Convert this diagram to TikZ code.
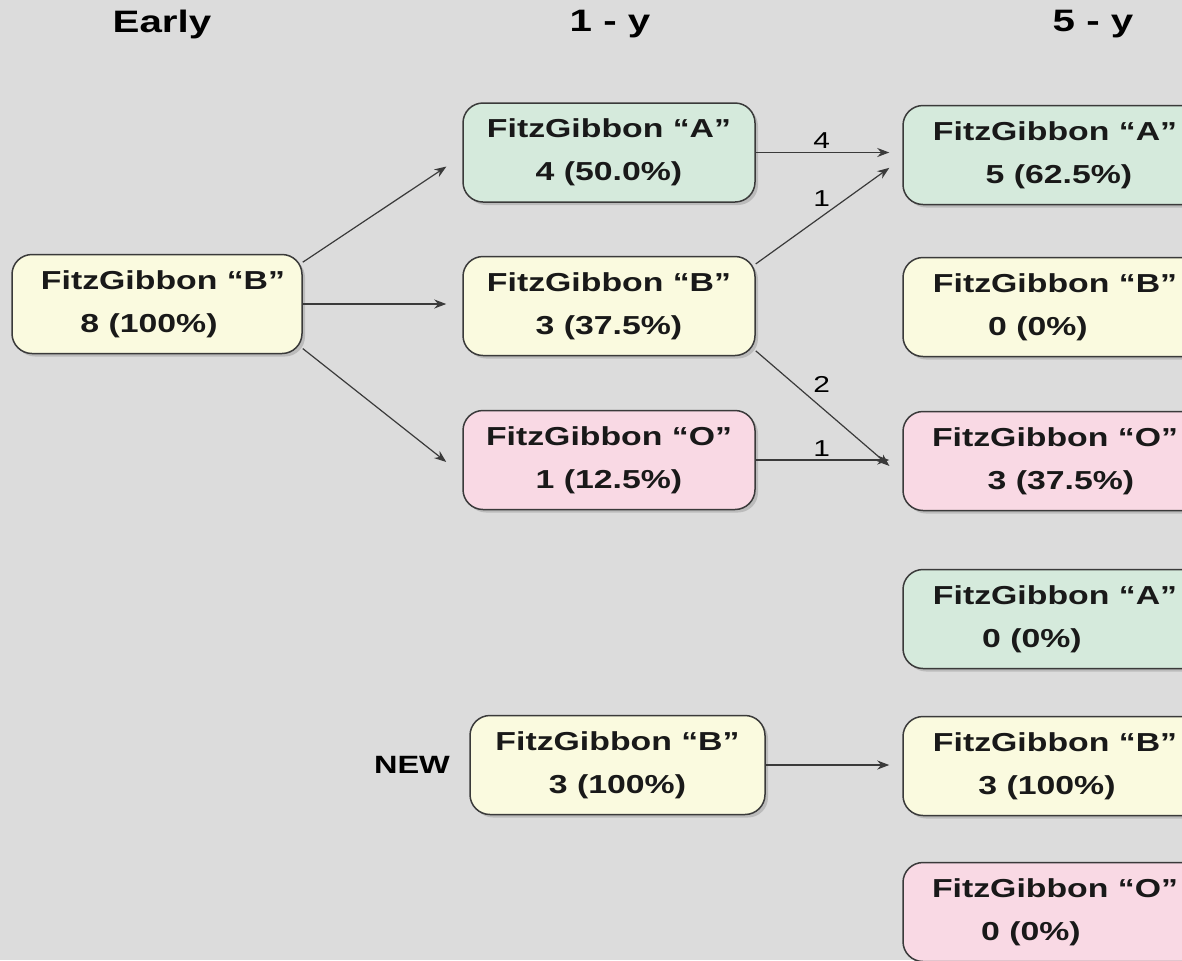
\documentclass[tikz,border=0pt]{standalone}
\usepackage{fontspec}
\setmainfont{Liberation Sans}[FakeStretch=1.3]
\usetikzlibrary{arrows.meta,shadows}
\definecolor{bggray}{HTML}{DCDCDC}
\definecolor{agreen}{HTML}{D5EADC}
\definecolor{byellow}{HTML}{FAFADF}
\definecolor{opink}{HTML}{F9D9E4}
\definecolor{edgegray}{HTML}{3A3A3A}
\begin{document}
\begin{tikzpicture}[x=0.5pt,y=-0.5pt,
    box/.style={draw=edgegray, line width=0.75pt, rounded corners=10pt,
      minimum width=146pt, minimum height=49.5pt, align=center,
      text=black!90, font=\fontsize{13}{21.5}\selectfont\bfseries,
      drop shadow={shadow xshift=1.5pt, shadow yshift=-1.5pt, opacity=0.35}},
    gbox/.style={box, fill=agreen},
    ybox/.style={box, fill=byellow},
    pbox/.style={box, fill=opink},
    head/.style={font=\fontsize{15.5}{18}\selectfont\bfseries},
    arr/.style={draw=edgegray, line width=0.6pt, -{Stealth[length=6pt,width=4.5pt]}},
    num/.style={font=\fontsize{11.5}{13}\selectfont, inner sep=1.5pt}]
  \useasboundingbox (0,0) rectangle (1182,960);
  \clip (0,0) rectangle (1182,960);
  \fill[bggray] (0,0) rectangle (1182,960);

  \node[head] (hEarly) at (162,24) {Early};
  \node[head] (hOne) at (610,24) {1 - y};
  \node[head] (hFive) at (1093,24) {5 - y};

  \node[ybox, minimum width=145pt] (early) at (157,304) {\hspace*{6pt}FitzGibbon “B”\\\hspace*{-8pt}8 (100\%)};

  \node[gbox] (oneA) at (609,152.5) {FitzGibbon “A”\\4 (50.0\%)};
  \node[ybox] (oneB) at (609,306) {FitzGibbon “B”\\3 (37.5\%)};
  \node[pbox] (oneO) at (609,460) {FitzGibbon “O”\\1 (12.5\%)};
  \node[ybox, minimum width=147.5pt] (newB) at (617.5,765) {FitzGibbon “B”\\3 (100\%)};
  \node[font=\fontsize{12.5}{15}\selectfont\bfseries] (newlbl) at (412,765) {NEW};

  \node[gbox, minimum width=152pt] (fiveA) at (1055,155) {FitzGibbon “A”\\\hspace*{4pt}5 (62.5\%)};
  \node[ybox, minimum width=152pt] (fiveB) at (1055,307) {FitzGibbon “B”\\\hspace*{-17pt}0 (0\%)};
  \node[pbox, minimum width=152pt] (fiveO) at (1055,461) {FitzGibbon “O”\\\hspace*{6pt}3 (37.5\%)};
  \node[gbox, minimum width=152pt] (fiveAn) at (1055,619) {FitzGibbon “A”\\\hspace*{-23pt}0 (0\%)};
  \node[ybox, minimum width=152pt] (fiveBn) at (1055,766) {FitzGibbon “B”\\\hspace*{-8pt}3 (100\%)};
  \node[pbox, minimum width=152pt] (fiveOn) at (1055,912) {FitzGibbon “O”\\\hspace*{-24pt}0 (0\%)};

  \draw[arr, shorten >=9.5pt] (early.16) -- ([yshift=-1.75pt]oneA.west);
  \draw[arr, shorten >=8pt] (early.east) -- (early.east -| oneB.west);
  \draw[arr, shorten >=10.2pt] (early.-17.5) -- ([yshift=-7.3pt]oneO.west);

  \draw[arr, shorten >=6.5pt] (oneA.east) -- (oneA.east -| fiveA.west) node[num, pos=0.45, above] {4};
  \draw[arr, shorten >=8pt] (oneB.16) -- ([yshift=-1.75pt]fiveA.west) node[num, pos=0.45, above=3pt] {1};
  \draw[arr, shorten >=8.5pt] (oneB.-17.5) -- ([yshift=-8pt]fiveO.west) node[num, pos=0.45, above=6pt] {2};
  \draw[arr, shorten >=6.5pt] (oneO.east) -- (oneO.east -| fiveO.west) node[num, pos=0.45, above] {1};
  \draw[arr, shorten >=6.5pt] (newB.east) -- (newB.east -| fiveBn.west);
\end{tikzpicture}
\end{document}
